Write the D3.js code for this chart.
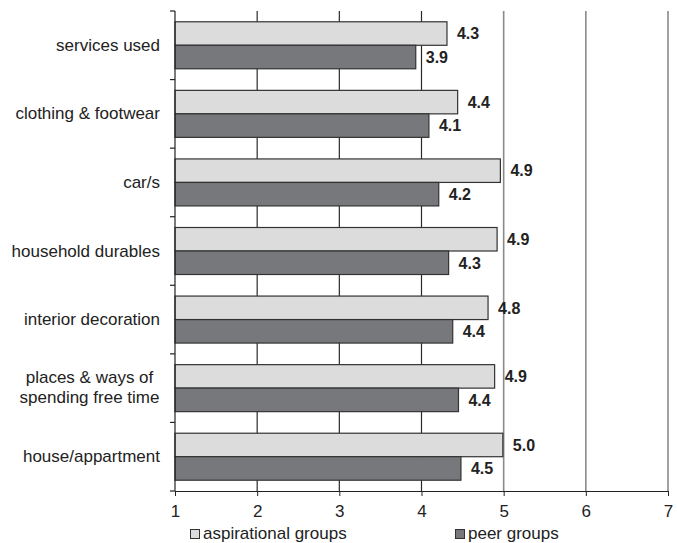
<!DOCTYPE html>
<html>
<head>
<meta charset="utf-8">
<script src="https://cdn.jsdelivr.net/npm/d3@7"></script>
<style>
html,body{margin:0;padding:0;background:#fff;}
svg{display:block;font-family:"Liberation Sans",Arial,sans-serif;}
</style>
</head>
<body>
<svg id="chart" width="677" height="543"></svg>
<script>
const categories = ["services used","clothing & footwear","car/s","household durables","interior decoration","places & ways of spending free time","house/appartment"];
const aspirational = [4.31, 4.44, 4.96, 4.92, 4.81, 4.89, 4.99];
const peer = [3.93, 4.09, 4.21, 4.33, 4.38, 4.45, 4.48];
const aspirationalLabels = ["4.3","4.4","4.9","4.9","4.8","4.9","5.0"];
const peerLabels = ["3.9","4.1","4.2","4.3","4.4","4.4","4.5"];
const xTicks = [1,2,3,4,5,6,7];
const seriesNames = ["aspirational groups","peer groups"];

(function(){
const svg = d3.select("#chart");
const pLeft = 175, pRight = 668, pTop = 11, pBottom = 491;
const fs = 17;
const x = d3.scaleLinear().domain([1,7]).range([pLeft,pRight]);
const y = d3.scaleBand().domain(categories).range([pTop,pBottom]).paddingInner(0).paddingOuter(0);
const bw = y.bandwidth();
const barH = 23.5;
const groupOff = (bw - 2*barH)/2;

// gridlines
svg.append("g").selectAll("line").data(xTicks.slice(1)).join("line")
  .attr("x1",d=>x(d)).attr("x2",d=>x(d)).attr("y1",pTop).attr("y2",pBottom)
  .attr("stroke",d=>d<=4?"#2a2a2a":"#8a8a8a").attr("stroke-width",d=>d<=4?1.2:1.6);

// bars
const g = svg.append("g");
categories.forEach((c,i)=>{
  g.append("rect").attr("x",x(1)).attr("y",y(c)+groupOff)
    .attr("width",x(aspirational[i])-x(1)).attr("height",barH)
    .attr("fill","#dcdcdd").attr("stroke","#333").attr("stroke-width",1.2);
  g.append("rect").attr("x",x(1)).attr("y",y(c)+groupOff+barH)
    .attr("width",x(peer[i])-x(1)).attr("height",barH)
    .attr("fill","#77787b").attr("stroke","#333").attr("stroke-width",1.2);
  g.append("text").attr("x",x(aspirational[i])+10).attr("y",y(c)+groupOff+barH/2)
    .attr("dy","0.36em").attr("font-size",16).attr("font-weight","bold").attr("fill","#222")
    .text(aspirationalLabels[i]);
  g.append("text").attr("x",x(peer[i])+10).attr("y",y(c)+groupOff+barH*1.5)
    .attr("dy","0.36em").attr("font-size",16).attr("font-weight","bold").attr("fill","#222")
    .text(peerLabels[i]);
});

// x axis
const xAxis = d3.axisBottom(x).tickValues(xTicks).tickFormat(d3.format("d")).tickSize(5).tickSizeOuter(0);
const xg = svg.append("g").attr("transform",`translate(0,${pBottom})`).call(xAxis);
xg.select(".domain").attr("stroke","#222").attr("stroke-width",1.2);
xg.selectAll(".tick line").attr("stroke","#222");
xg.selectAll("text").attr("font-size",fs).attr("fill","#222").attr("y",26).attr("dy",0)
  .attr("font-family","Liberation Sans, Arial, sans-serif");

// y axis line and ticks at band boundaries
svg.append("line").attr("x1",pLeft).attr("x2",pLeft).attr("y1",pTop).attr("y2",pBottom).attr("stroke","#222").attr("stroke-width",1.2);
const bounds = categories.map(c=>y(c)).concat([pBottom]);
svg.append("g").selectAll("line").data(bounds).join("line")
  .attr("x1",pLeft-5).attr("x2",pLeft).attr("y1",d=>d).attr("y2",d=>d).attr("stroke","#222").attr("stroke-width",1.2);

// category labels
const labelX = 160;
categories.forEach(c=>{
  const cy = y(c)+bw/2;
  if(c==="places & ways of spending free time"){
    const t = svg.append("text").attr("font-size",fs).attr("fill","#222").attr("text-anchor","middle");
    t.append("tspan").attr("x",89.5).attr("y",cy-5).text("places & ways of");
    t.append("tspan").attr("x",89.5).attr("y",cy+14.5).text("spending free time");
  } else {
    svg.append("text").attr("x",labelX).attr("y",cy+5.5)
      .attr("text-anchor","end").attr("font-size",fs).attr("fill","#222").text(c);
  }
});

// legend
const legendX = [190,455];
const legendFill = ["#dcdcdd","#77787b"];
seriesNames.forEach((s,i)=>{
  svg.append("rect").attr("x",legendX[i]+0.5).attr("y",529.5).attr("width",9).attr("height",9)
    .attr("fill",legendFill[i]).attr("stroke","#333").attr("stroke-width",1);
  svg.append("text").attr("x",legendX[i]+13).attr("y",538.5).attr("font-size",fs).attr("fill","#222").text(s);
});
})();
</script>
</body>
</html>
